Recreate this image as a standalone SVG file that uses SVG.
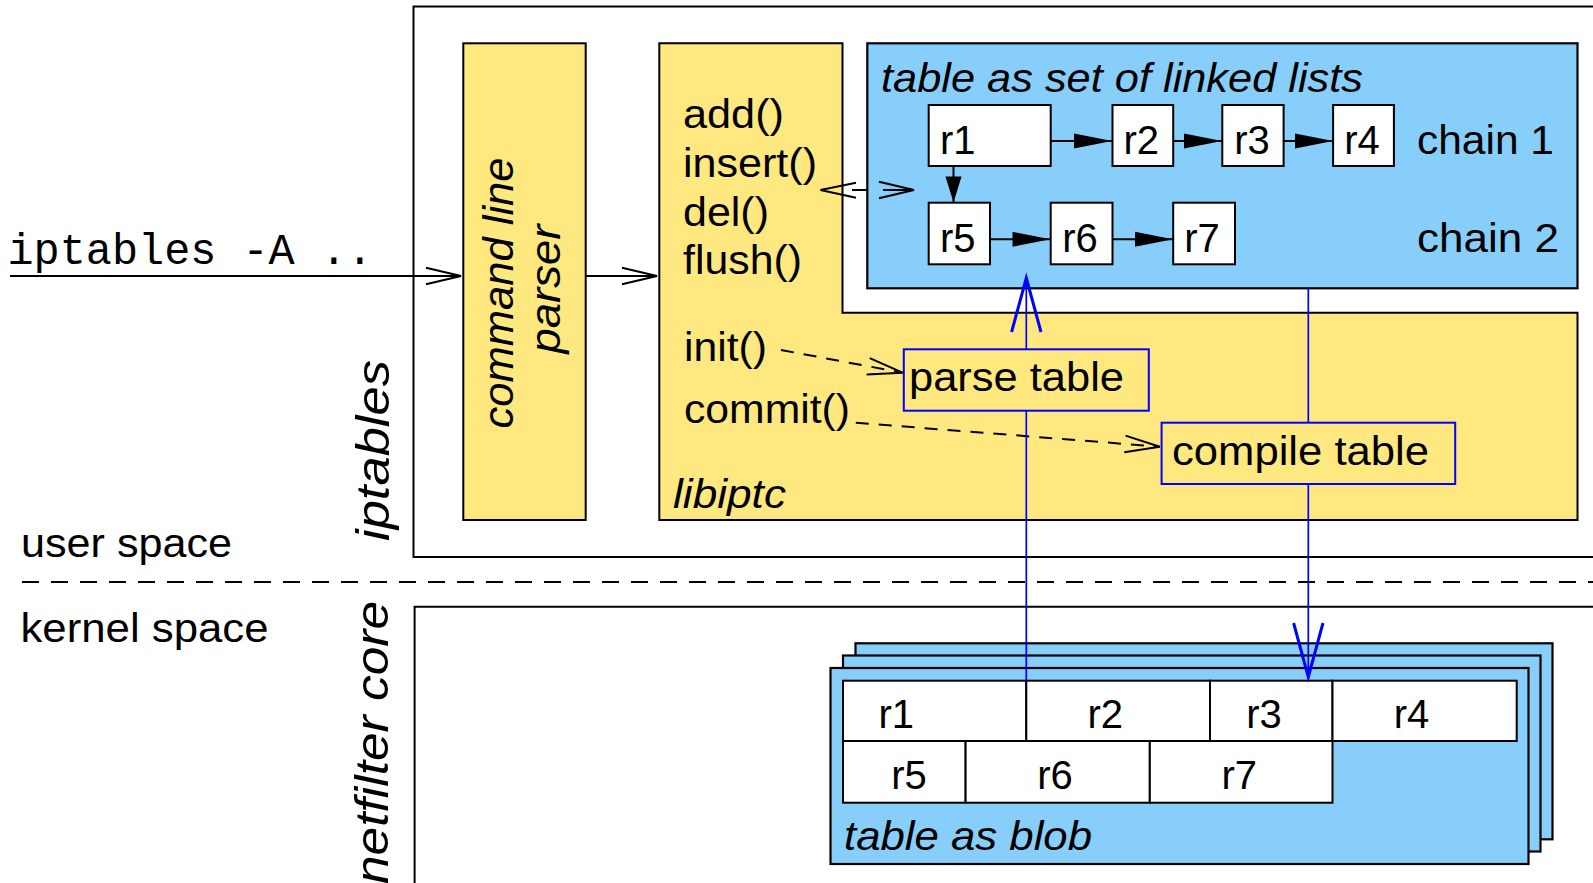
<svg xmlns="http://www.w3.org/2000/svg" width="1593" height="883" viewBox="0 0 1593 883">
  <style>
    text { font-family: "Liberation Sans", Arial, Helvetica, sans-serif; font-size: 40px; fill: #000; }
    .it { font-style: italic; }
    .rot { font-size: 46px; font-style: italic; }
    .rot2 { font-size: 43px; font-style: italic; }
    .mono { font-family: "Liberation Mono", "Courier New", monospace; font-size: 43.5px; }
    .frame { fill: none; stroke: #000; stroke-width: 2; }
    .yellow { fill: #ffe880; stroke: #000; stroke-width: 2; }
    .blue { fill: #87cefa; stroke: #000; stroke-width: 2.2; }
    .cell { fill: #fff; stroke: #000; stroke-width: 2; }
    .step { fill: none; stroke: #0000ff; stroke-width: 2; }
    .wire { fill: none; stroke: #000; stroke-width: 2; }
    .dash { fill: none; stroke: #000; stroke-width: 2; stroke-dasharray: 13 10; }
    .flow { fill: none; stroke: #0000ff; stroke-width: 1.7; }
    .sep { fill: none; stroke: #000; stroke-width: 2; stroke-dasharray: 17 12; }
  </style>
  <defs>
    <marker id="open" markerUnits="userSpaceOnUse" orient="auto" overflow="visible" refX="0" refY="0" markerWidth="40" markerHeight="20">
      <path d="M-35,-8.3 L0,0 L-35,8.3" fill="none" stroke="#000" stroke-width="2"/>
    </marker>
    <marker id="solid" markerUnits="userSpaceOnUse" orient="auto" overflow="visible" refX="0" refY="0" markerWidth="40" markerHeight="20">
      <path d="M-38,-7.5 L0,0 L-38,7.5 Z" fill="#000"/>
    </marker>
    <marker id="solid-short" markerUnits="userSpaceOnUse" orient="auto" overflow="visible" refX="0" refY="0" markerWidth="30" markerHeight="20">
      <path d="M-26,-8 L0,0 L-26,8 Z" fill="#000"/>
    </marker>
    <marker id="blue-open" markerUnits="userSpaceOnUse" orient="auto" overflow="visible" refX="0" refY="0" markerWidth="60" markerHeight="32">
      <path d="M-54,-14.7 L0,0 L-54,14.7" fill="none" stroke="#0000ff" stroke-width="3"/>
    </marker>
  </defs>

  <!-- space labels and user/kernel separator -->
  <g id="spaces">
    <text x="21" y="556.7" textLength="211" lengthAdjust="spacingAndGlyphs">user space</text>
    <line class="sep" x1="22" y1="582" x2="1593" y2="582"/>
    <text x="20.5" y="641.7" textLength="248" lengthAdjust="spacingAndGlyphs">kernel space</text>
  </g>

  <!-- iptables frame (user space) -->
  <g id="iptables">
    <path class="frame" d="M1600,6.5 H413.5 V557 H1600"/>
    <text class="rot" transform="translate(389,541) rotate(-90)" textLength="181" lengthAdjust="spacingAndGlyphs">iptables</text>
  </g>

  <!-- netfilter core frame (kernel space) -->
  <g id="netfilter-core">
    <path class="frame" d="M1600,606.7 H414.6 V890"/>
    <text class="rot" transform="translate(388,884) rotate(-90)" textLength="283" lengthAdjust="spacingAndGlyphs">netfilter core</text>
  </g>

  <!-- command line parser -->
  <g id="parser">
    <rect class="yellow" x="463.3" y="43.3" width="122.4" height="476.7"/>
    <text class="rot2" text-anchor="middle" transform="translate(513,293) rotate(-90)" textLength="271" lengthAdjust="spacingAndGlyphs">command line</text>
    <text class="rot2" text-anchor="middle" transform="translate(560,289) rotate(-90)" textLength="129" lengthAdjust="spacingAndGlyphs">parser</text>
  </g>

  <!-- libiptc -->
  <g id="libiptc">
    <path class="yellow" d="M659.3,43.3 H842.5 V312.7 H1577.5 V520 H659.3 Z"/>
    <text x="683" y="128.3" textLength="101" lengthAdjust="spacingAndGlyphs">add()</text>
    <text x="683" y="176.7" textLength="134" lengthAdjust="spacingAndGlyphs">insert()</text>
    <text x="683" y="225.7" textLength="86" lengthAdjust="spacingAndGlyphs">del()</text>
    <text x="683" y="274.3" textLength="119" lengthAdjust="spacingAndGlyphs">flush()</text>
    <text x="684" y="361" textLength="83" lengthAdjust="spacingAndGlyphs">init()</text>
    <text x="684" y="422.7" textLength="166" lengthAdjust="spacingAndGlyphs">commit()</text>
    <text class="it" x="673" y="508.3" textLength="113" lengthAdjust="spacingAndGlyphs">libiptc</text>
  </g>

  <!-- table as set of linked lists -->
  <g id="linked-table">
    <rect class="blue" x="867.3" y="43.3" width="710.2" height="245"/>
    <text class="it" x="881" y="91.7" textLength="482" lengthAdjust="spacingAndGlyphs">table as set of linked lists</text>
    <text x="1417" y="154" textLength="137" lengthAdjust="spacingAndGlyphs">chain 1</text>
    <text x="1417" y="251.7" textLength="142" lengthAdjust="spacingAndGlyphs">chain 2</text>
  </g>
  <g id="rule-r1"><rect class="cell" x="928.7" y="105" width="122" height="61"/><text x="940" y="154">r1</text></g>
  <g id="rule-r2"><rect class="cell" x="1112.5" y="105" width="60.7" height="61"/><text x="1123.5" y="154">r2</text></g>
  <g id="rule-r3"><rect class="cell" x="1222.3" y="105" width="61.3" height="61"/><text x="1234.3" y="154">r3</text></g>
  <g id="rule-r4"><rect class="cell" x="1333.1" y="105" width="60.8" height="61"/><text x="1344.2" y="154">r4</text></g>
  <g id="rule-r5"><rect class="cell" x="928.7" y="202.7" width="61.3" height="61.6"/><text x="940" y="251.7">r5</text></g>
  <g id="rule-r6"><rect class="cell" x="1050.7" y="202.7" width="61.8" height="61.6"/><text x="1062.3" y="251.7">r6</text></g>
  <g id="rule-r7"><rect class="cell" x="1173.2" y="202.7" width="61.8" height="61.6"/><text x="1184.3" y="251.7">r7</text></g>

  <!-- conversion steps -->
  <g id="parse-table">
    <rect class="step" x="903.8" y="349.3" width="245" height="61.4"/>
    <text x="909" y="390.7" textLength="215" lengthAdjust="spacingAndGlyphs">parse table</text>
  </g>
  <g id="compile-table">
    <rect class="step" x="1161.6" y="422.7" width="293.6" height="61.3"/>
    <text x="1172" y="465" textLength="257" lengthAdjust="spacingAndGlyphs">compile table</text>
  </g>

  <!-- table as blob: stacked sheets -->
  <g id="blob-table">
    <rect class="blue" x="855.5" y="643.3" width="697" height="196"/>
    <rect class="blue" x="843" y="655.5" width="697.5" height="196"/>
    <rect class="blue" x="830.5" y="668" width="698" height="196"/>
    <rect class="cell" x="843" y="680.7" width="183.3" height="60.3"/>
    <rect class="cell" x="1026.3" y="680.7" width="183.7" height="60.3"/>
    <rect class="cell" x="1210" y="680.7" width="122.5" height="60.3"/>
    <rect class="cell" x="1332.5" y="680.7" width="184.2" height="60.3"/>
    <rect class="cell" x="843" y="741" width="122.6" height="61.7"/>
    <rect class="cell" x="965.6" y="741" width="184.2" height="61.7"/>
    <rect class="cell" x="1149.8" y="741" width="182.7" height="61.7"/>
    <text x="878.5" y="728.3">r1</text>
    <text x="1087.5" y="728.3">r2</text>
    <text x="1246.3" y="728.3">r3</text>
    <text x="1393.7" y="728.3">r4</text>
    <text x="891.3" y="789.3">r5</text>
    <text x="1037.2" y="789.3">r6</text>
    <text x="1221.4" y="789.3">r7</text>
    <text class="it" x="844" y="850" textLength="248" lengthAdjust="spacingAndGlyphs">table as blob</text>
  </g>

  <!-- command input -->
  <g id="command">
    <text class="mono" x="7.5" y="264.3">iptables -A ..</text>
  </g>

  <!-- connectors -->
  <g id="connectors">
    <line class="wire" x1="10" y1="276" x2="461" y2="276" marker-end="url(#open)"/>
    <line class="wire" x1="585.7" y1="276" x2="657" y2="276" marker-end="url(#open)"/>

    <line class="wire" x1="1050.7" y1="141" x2="1112" y2="141" marker-end="url(#solid)"/>
    <line class="wire" x1="1173.2" y1="141" x2="1222" y2="141" marker-end="url(#solid)"/>
    <line class="wire" x1="1283.6" y1="141" x2="1333" y2="141" marker-end="url(#solid)"/>
    <line class="wire" x1="990" y1="239.3" x2="1050.5" y2="239.3" marker-end="url(#solid)"/>
    <line class="wire" x1="1112.5" y1="239.3" x2="1173" y2="239.3" marker-end="url(#solid)"/>
    <line class="wire" x1="953.5" y1="166" x2="953.5" y2="202.5" marker-end="url(#solid-short)"/>

    <!-- two-way access between the call API and the linked table -->
    <path class="wire" d="M856,182.7 L820.5,190 L856,197.7"/>
    <line class="wire" x1="852" y1="190" x2="867.3" y2="190"/>
    <line class="wire" x1="883" y1="190" x2="914" y2="190" marker-end="url(#open)"/>

    <line class="dash" x1="781" y1="350" x2="902.6" y2="372.7" marker-end="url(#open)"/>
    <line class="dash" x1="855.8" y1="422.7" x2="1159.8" y2="446.7" marker-end="url(#open)"/>

    <line class="flow" x1="1026.3" y1="680.7" x2="1026.3" y2="410.7"/>
    <line class="flow" x1="1026.3" y1="349.3" x2="1026.3" y2="278" marker-end="url(#blue-open)"/>
    <line class="flow" x1="1308.3" y1="288.3" x2="1308.3" y2="422.7"/>
    <line class="flow" x1="1308.3" y1="484" x2="1308.3" y2="677" marker-end="url(#blue-open)"/>
  </g>
</svg>
